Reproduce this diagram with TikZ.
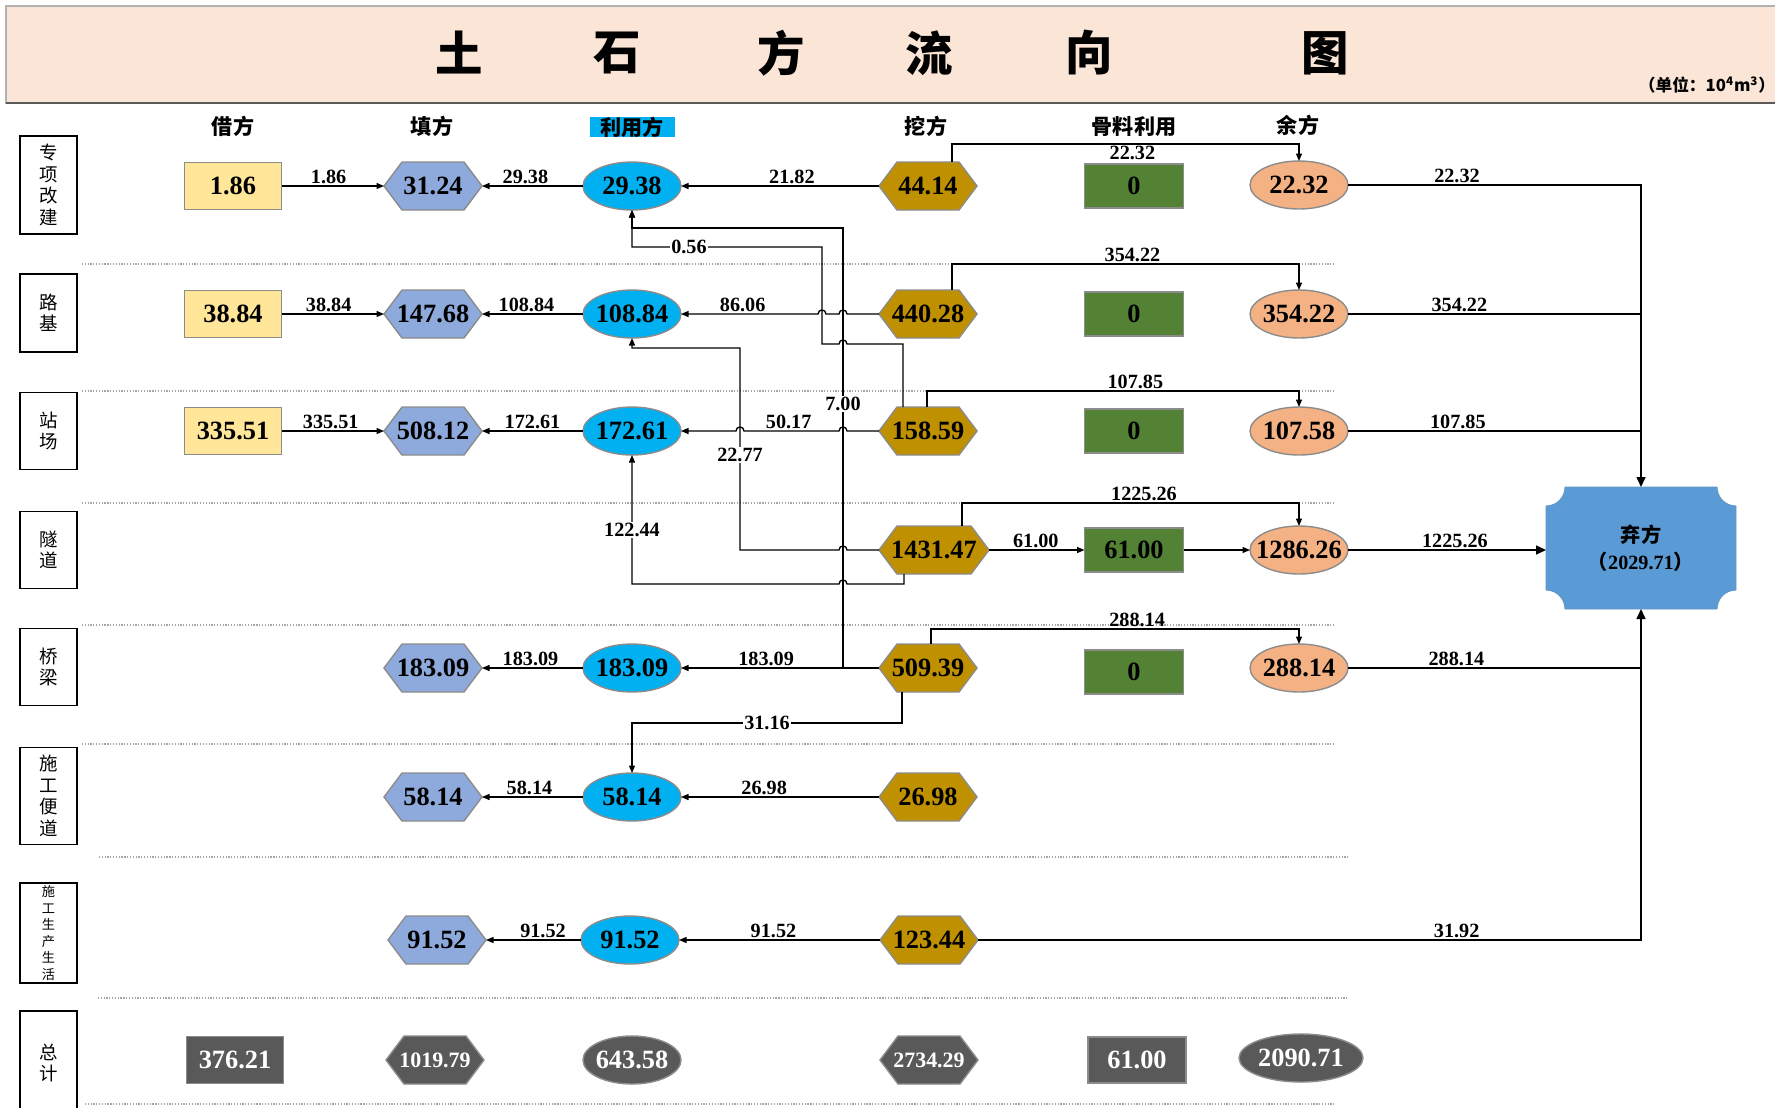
\documentclass[tikz,border=0pt]{standalone}
\usepackage{fontspec}
\setmainfont{Liberation Serif}
\newfontfamily\cjk{Noto Sans CJK SC}
\usetikzlibrary{arrows.meta,calc}
\def\px{0.02cm}
\definecolor{cYel}{HTML}{FFE699}
\definecolor{cFill}{HTML}{8EA9DB}
\definecolor{cUse}{HTML}{00B0F0}
\definecolor{cDig}{HTML}{BF9000}
\definecolor{cAgg}{HTML}{548235}
\definecolor{cRes}{HTML}{F4B183}
\definecolor{cWaste}{HTML}{5B9BD5}
\definecolor{cTot}{HTML}{595959}
\definecolor{cTitle}{HTML}{FBE5D6}
\definecolor{cBord}{HTML}{8C8C8C}
\definecolor{cDot}{HTML}{A6A6A6}
\tikzset{
  numf/.style={font=\fontsize{15}{17}\selectfont\bfseries, text=black},
  anch/.style={rectangle, inner sep=0pt, outer sep=0pt, minimum height=48*\px, numf},
  ybox/.style={anch, draw=cBord, line width=0.8pt, fill=cYel, minimum width=97*\px, minimum height=47*\px},
  gbox/.style={anch, draw=cBord, line width=0.8pt, fill=cAgg, minimum width=99*\px, minimum height=44*\px},
  tot/.style={text=white},
  totsm/.style={text=white, font=\fontsize{12.5}{14}\selectfont\bfseries},
  tbox/.style={anch, fill=cTot, draw=cBord, line width=0.8pt, text=white, minimum width=97*\px, minimum height=47*\px},
  lab/.style={font=\fontsize{11.5}{13}\selectfont\bfseries, inner sep=1pt},
  labw/.style={lab, fill=white, inner sep=0.6pt},
  ln/.style={draw=black, line width=0.75pt},
  arr/.style={ln, -{Triangle[length=1.5mm,width=1.2mm]}},
  arrB/.style={ln, line width=0.9pt, -{Triangle[length=2mm,width=1.8mm]}},
  sepline/.style={draw=cDot, line width=0.7pt, dash pattern=on 0.7pt off 0.9pt},
  hdr/.style={font=\cjk\bfseries\fontsize{12}{14}\selectfont, inner sep=0pt},
  rowl/.style={draw=black, line width=1.1pt, minimum width=57*\px, inner sep=0pt, align=center, font=\cjk\fontsize{10.5}{12.2}\selectfont},
  ttl/.style={font=\cjk\bfseries\fontsize{27}{30}\selectfont, inner sep=0pt},
}
\newcommand\hexnode[7]{%
  \filldraw[fill=#6, draw=cBord, line width=0.8pt] ({#3-#5},#4) -- ({#3-#5+18},{#4-24}) -- ({#3+#5-18},{#4-24}) -- ({#3+#5},#4) -- ({#3+#5-18},{#4+24}) -- ({#3-#5+18},{#4+24}) -- cycle;
  \node[anch, minimum width={2*#5*\px}, #1] (#2) at (#3,#4) {#7};}
\newcommand\ellnode[7]{%
  \filldraw[fill=#6, draw=cBord, line width=0.8pt] (#3,#4) ellipse [x radius={#5*\px}, y radius={24*\px}];
  \node[anch, minimum width={2*#5*\px}, #1] (#2) at (#3,#4) {#7};}
\begin{document}
\begin{tikzpicture}[x=0.02cm, y=-0.02cm]
\useasboundingbox (0,0) rectangle (1775,1107);
% title band
\filldraw[fill=cTitle, draw=gray!60, line width=0.6pt] (6,6) rectangle (1790,103);
\draw[gray!70!black, line width=1.6pt] (6,103) -- (1790,103);
\node[ttl] (tt1) at (459,53) {土};
\node[ttl] (tt2) at (617,53) {石};
\node[ttl] (tt3) at (781,53) {方};
\node[ttl] (tt4) at (929,53) {流};
\node[ttl] (tt5) at (1089,53) {向};
\node[ttl] (tt6) at (1325,53) {图};
\node[font=\cjk\bfseries\fontsize{9.5}{11}\selectfont, inner sep=0pt] (unit) at (1707,85) {（单位：10\textsuperscript{4}m\textsuperscript{3}）};
% headers
\node[hdr] (hd1) at (233,126) {借方};
\node[hdr] (hd2) at (432,126) {填方};
\node[hdr, fill=cUse, minimum width=85*\px, minimum height=19*\px] (hd3) at (632,127) {利用方};
\node[hdr] (hd4) at (926,126) {挖方};
\node[hdr] (hd5) at (1134,127) {骨料利用};
\node[hdr] (hd6) at (1298,125) {余方};
% separators
\draw[sepline] (82,264) -- (1334,264);
\draw[sepline] (82,391) -- (1334,391);
\draw[sepline] (82,503) -- (1334,503);
\draw[sepline] (82,625) -- (1334,625);
\draw[sepline] (82,744) -- (1334,744);
\draw[sepline] (99,857) -- (1349,857);
\draw[sepline] (98,998) -- (1348,998);
\draw[sepline] (85,1104) -- (1335,1104);
% row labels
\node[rowl, minimum height=98*\px] (rl1) at (48.5,185) {专\\项\\改\\建};
\node[rowl, minimum height=78*\px] (rl2) at (48.5,313) {路\\基};
\node[rowl, minimum height=77*\px] (rl3) at (48.5,431) {站\\场};
\node[rowl, minimum height=77*\px] (rl4) at (48.5,550) {隧\\道};
\node[rowl, minimum height=77*\px] (rl5) at (48.5,667) {桥\\梁};
\node[rowl, minimum height=97*\px] (rl6) at (48.5,796) {施\\工\\便\\道};
\node[rowl, minimum height=100*\px, font=\cjk\fontsize{7.5}{9.4}\selectfont] (rl7) at (48.5,933) {施\\工\\生\\产\\生\\活};
\node[rowl, minimum height=104*\px] (rl8) at (48.5,1063) {总\\计};
% row 1
\node[ybox] (b1) at (233,186) {1.86};
\hexnode{}{h1}{433}{186}{49}{cFill}{31.24}
\ellnode{}{e1}{632}{186}{49}{cUse}{29.38}
\hexnode{}{w1}{928}{186}{49}{cDig}{44.14}
\node[gbox] (g1) at (1134,186) {0};
\ellnode{}{y1}{1299}{185}{49}{cRes}{22.32}
% row 2
\node[ybox] (b2) at (233,314) {38.84};
\hexnode{}{h2}{433}{314}{49}{cFill}{147.68}
\ellnode{}{e2}{632}{314}{49}{cUse}{108.84}
\hexnode{}{w2}{928}{314}{49}{cDig}{440.28}
\node[gbox] (g2) at (1134,314) {0};
\ellnode{}{y2}{1299}{314}{49}{cRes}{354.22}
% row 3
\node[ybox] (b3) at (233,431) {335.51};
\hexnode{}{h3}{433}{431}{49}{cFill}{508.12}
\ellnode{}{e3}{632}{431}{49}{cUse}{172.61}
\hexnode{}{w3}{928}{431}{49}{cDig}{158.59}
\node[gbox] (g3) at (1134,431) {0};
\ellnode{}{y3}{1299}{431}{49}{cRes}{107.58}
% row 4
\hexnode{}{w4}{934}{550}{55}{cDig}{1431.47}
\node[gbox] (g4) at (1134,550) {61.00};
\ellnode{}{y4}{1299}{550}{49}{cRes}{1286.26}
% row 5
\hexnode{}{h5}{433}{668}{49}{cFill}{183.09}
\ellnode{}{e5}{632}{668}{49}{cUse}{183.09}
\hexnode{}{w5}{928}{668}{49}{cDig}{509.39}
\node[gbox] (g5) at (1134,672) {0};
\ellnode{}{y5}{1299}{668}{49}{cRes}{288.14}
% row 6
\hexnode{}{h6}{433}{797}{49}{cFill}{58.14}
\ellnode{}{e6}{632}{797}{49}{cUse}{58.14}
\hexnode{}{w6}{928}{797}{49}{cDig}{26.98}
% row 7
\hexnode{}{h7}{437}{940}{49}{cFill}{91.52}
\ellnode{}{e7}{630}{940}{49}{cUse}{91.52}
\hexnode{}{w7}{929}{940}{49}{cDig}{123.44}
% totals
\node[tbox] (s1) at (235,1060) {376.21};
\hexnode{totsm}{s2}{435}{1060}{49}{cTot}{1019.79}
\ellnode{tot}{s3}{632}{1060}{49}{cTot}{643.58}
\hexnode{totsm}{s4}{929}{1060}{49}{cTot}{2734.29}
\node[tbox, minimum width=98*\px, minimum height=46*\px] (s5) at (1137,1060) {61.00};
\ellnode{tot}{s6}{1301}{1058}{62}{cTot}{2090.71}
% waste box
\filldraw[fill=cWaste, draw=cWaste!80!gray, line width=0.5pt] (1565,487) -- (1717,487) .. controls (1717,497.5) and (1725.5,506) .. (1736,506) -- (1736,590) .. controls (1725.5,590) and (1717,598.5) .. (1717,609) -- (1565,609) .. controls (1565,598.5) and (1556.5,590) .. (1546,590) -- (1546,506) .. controls (1556.5,506) and (1565,497.5) .. (1565,487) -- cycle;
\node[rectangle, inner sep=0pt, outer sep=0pt, minimum width=190*\px, minimum height=122*\px, align=center, font=\fontsize{11.5}{15.4}\selectfont\bfseries] (qi) at (1641,548) {{\cjk\bfseries 弃方}\\{\cjk\bfseries （}2029.71{\cjk\bfseries ）}};
% ---- connectors ----
\coordinate (j7) at (843,668);
% row 1
\draw[arr] (b1.east) -- node[lab,above,pos=0.46]{1.86} (h1.west);
\draw[arr] (e1.west) -- node[lab,above,pos=0.57]{29.38} (h1.east);
\draw[arr] (w1.west) -- node[lab,above,pos=0.44]{21.82} (e1.east);
\draw[arr] ($(w1.north)+(24,0)$) -- ++(0,-18) -| node[lab,below,pos=0.26]{22.32} (y1.north);
% row 2
\draw[arr] (b2.east) -- node[lab,above,pos=0.46]{38.84} (h2.west);
\draw[arr] (e2.west) -- node[lab,above,pos=0.56]{108.84} (h2.east);
\draw[arr] (w2.west) -- (847,314) .. controls (847,308.7) and (839,308.7) .. (839,314) -- (826,314) .. controls (826,308.7) and (818,308.7) .. (818,314) -- node[lab,above,pos=0.55]{86.06} (e2.east);
\draw[arr] ($(w2.north)+(24,0)$) -- ++(0,-26) -| node[lab,above,pos=0.26]{354.22} (y2.north);
% row 3
\draw[arr] (b3.east) -- node[lab,above,pos=0.48]{335.51} (h3.west);
\draw[arr] (e3.west) -- node[lab,above,pos=0.5]{172.61} (h3.east);
\draw[arr] (w3.west) -- (847,431) .. controls (847,425.7) and (839,425.7) .. (839,431) -- node[lab,above,pos=0.53]{50.17} (744,431) .. controls (744,425.7) and (736,425.7) .. (736,431) -- (e3.east);
\draw[arr] ($(w3.north)+(-1,0)$) -- ++(0,-16) -| node[lab,above,pos=0.28]{107.85} (y3.north);
% cross connectors
\draw[arr] ($(w3.north)+(-25,0)$) |- (847,344) .. controls (847,338.7) and (839,338.7) .. (839,344) -| (822,247) -- node[labw,pos=0.7]{0.56} (632,247) -- (e1.south);
\draw[arr] (j7) -- node[labw,pos=0.6]{7.00} (843,228) -| (e1.south);
\draw[arr] (w4.west) -- (847,550) .. controls (847,544.7) and (839,544.7) .. (839,550) -- (740,550) -- node[labw,pos=0.47]{22.77} (740,348) -| (e2.south);
\draw[arr] ($(w4.south)+(-30,0)$) |- (847,584) .. controls (847,578.7) and (839,578.7) .. (839,584) -| node[labw,pos=0.71]{122.44} (e3.south);
% row 4
\draw[arr] ($(w4.north)+(28,0)$) -- ++(0,-23) -| node[lab,above,pos=0.27]{1225.26} (y4.north);
\draw[arr] (w4.east) -- node[lab,above,pos=0.49]{61.00} (g4.west);
\draw[arr] (g4.east) -- (y4.west);
% row 5
\draw[arr] (w5.west) -- node[lab,above,pos=0.57]{183.09} (e5.east);
\draw[arr] (e5.west) -- node[lab,above,pos=0.52]{183.09} (h5.east);
\draw[arr] ($(w5.north)+(3,0)$) -- ++(0,-15) -| node[lab,above,pos=0.28]{288.14} (y5.north);
\draw[arr] ($(w5.south)+(-26,0)$) -- ++(0,31) -| node[labw,pos=0.25]{31.16} (e6.north);
% row 6
\draw[arr] (w6.west) -- node[lab,above,pos=0.58]{26.98} (e6.east);
\draw[arr] (e6.west) -- node[lab,above,pos=0.53]{58.14} (h6.east);
% row 7
\draw[arr] (w7.west) -- node[lab,above,pos=0.53]{91.52} (e7.east);
\draw[arr] (e7.west) -- node[lab,above,pos=0.4]{91.52} (h7.east);
% to waste
\draw[arrB] (y1.east) -| node[lab,above,pos=0.186]{22.32} (qi.north);
\draw[ln] (y2.east) -- node[lab,above,pos=0.38]{354.22} (y2.east -| qi.north);
\draw[ln] (y3.east) -- node[lab,above,pos=0.375]{107.85} (y3.east -| qi.north);
\draw[arrB] (y4.east) -- node[lab,above,pos=0.54]{1225.26} (y4.east -| qi.west);
\draw[ln] (y5.east) -- node[lab,above,pos=0.37]{288.14} (y5.east -| qi.south);
\draw[arrB] (w7.east) -| node[lab,above,pos=0.361]{31.92} (qi.south);
\end{tikzpicture}
\end{document}
